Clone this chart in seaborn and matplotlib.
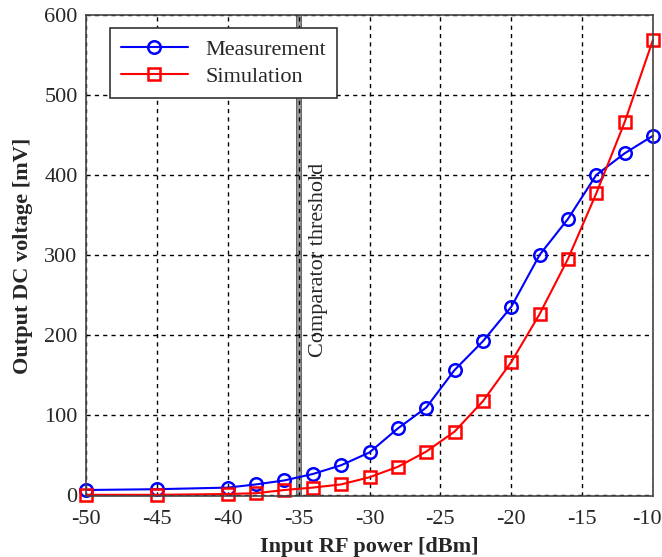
import pandas as pd
import seaborn as sns
import matplotlib
matplotlib.use("Agg")
import matplotlib.pyplot as plt
from matplotlib.transforms import ScaledTranslation

sns.set_style("white")
plt.rcParams['font.family'] = ['Liberation Serif', 'DejaVu Serif']
plt.rcParams['font.size'] = 16
plt.rcParams['axes.unicode_minus'] = False

# input power [dBm]
power = [-50, -45, -40, -38, -36, -34, -32, -30, -28, -26, -24, -22, -20, -18, -16, -14, -12, -10]
# output DC voltage [mV]
measured = [6, 7, 9, 13, 18, 26, 37, 53, 83, 109, 156, 192, 235, 300, 345, 400, 427, 449]
simulated = [0, 0, 1, 2, 6, 9, 13, 22, 35, 54, 79, 117, 166, 226, 295, 377, 466, 569]
threshold = -35

df = pd.concat([
    pd.DataFrame({'power': power, 'volt': measured, 'kind': 'Measurement'}),
    pd.DataFrame({'power': power, 'volt': simulated, 'kind': 'Simulation'}),
])

fig = plt.figure(figsize=(6.62, 5.57), dpi=100)
ax = fig.add_axes([86 / 662, 61 / 557, 567 / 662, 481 / 557])
ax.set_axisbelow(False)

# comparator threshold: grey bar with darker edges, grid drawn over it
ax.axvline(threshold, color='#5a5a5a', lw=4.2, zorder=0.2)
ax.axvline(threshold, color='#9a9a9a', lw=2.8, zorder=0.3)

sns.lineplot(data=df, x='power', y='volt', hue='kind', style='kind',
             palette={'Measurement': '#0000ff', 'Simulation': '#ff0000'},
             markers={'Measurement': 'o', 'Simulation': 's'},
             dashes=False, markersize=9, markerfacecolor='none',
             markeredgewidth=1.8, lw=1.5, ax=ax, clip_on=False, zorder=3)

# open markers need the edge coloured like the line
for line in ax.lines:
    if line.get_marker() in ('o', 's'):
        line.set_markeredgecolor(line.get_color())
        line.set_markerfacecolor('none')

ax.text(-34.3, 172, 'Comparator threshold', rotation=90, ha='left', va='bottom', fontsize=16)

ax.set_xlim(-50, -10)
ax.set_ylim(-1.5, 600)
ax.set_xticks(range(-50, -9, 5))
ax.set_yticks(range(0, 601, 100))
ax.grid(True, color='black', linestyle=(0, (3, 3)), lw=1.0, zorder=1)
ax.tick_params(axis='both', length=0, labelsize=16)
ax.tick_params(axis='x', pad=10)
ax.tick_params(axis='y', pad=6)
for s in ax.spines.values():
    s.set_color('#444444')
    s.set_linewidth(1.2)
    s.set_zorder(4)

# last x label sits at the figure edge, nudge it in a little
last = ax.get_xticklabels()[-1]
last.set_transform(last.get_transform() + ScaledTranslation(-6 / 100, 0, fig.dpi_scale_trans))

ax.set_xlabel('Input RF power [dBm]', fontsize=16, fontweight='bold', labelpad=6)
ax.set_ylabel('Output DC voltage [mV]', fontsize=16, fontweight='bold', labelpad=8)

handles, labels = ax.get_legend_handles_labels()
for h in handles:
    h.set_markeredgecolor(h.get_color())
    h.set_markerfacecolor('none')
    h.set_markersize(9)
    h.set_markeredgewidth(1.8)
leg = ax.legend(handles, labels, loc='upper left', bbox_to_anchor=(0.042, 0.973),
                borderaxespad=0, fancybox=False, framealpha=1, edgecolor='#333333',
                handlelength=3.0, fontsize=16, borderpad=0.5, labelspacing=0.3)
leg.get_frame().set_linewidth(1.2)
leg.set_zorder(5)

fig.savefig('out.png', dpi=100)
